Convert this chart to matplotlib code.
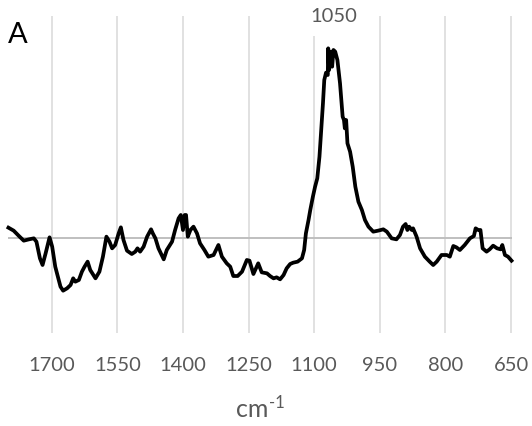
import matplotlib
matplotlib.use("Agg")
import matplotlib.pyplot as plt
from matplotlib.transforms import blended_transform_factory

# wavenumber (cm-1) and difference absorbance (arbitrary units)
wavenumber = [1799, 1787, 1775, 1764, 1752, 1741, 1735, 1727, 1721, 1714,
              1705, 1699, 1692, 1686, 1680, 1674, 1665, 1657, 1651, 1646,
              1638, 1631, 1625, 1618, 1612, 1600, 1591, 1583, 1575, 1568,
              1562, 1555, 1547, 1542, 1536, 1528, 1517, 1509, 1504, 1498,
              1490, 1482, 1473, 1469, 1463, 1456, 1444, 1437, 1425, 1418,
              1410, 1405, 1400, 1396, 1393, 1389, 1383, 1376, 1368, 1361,
              1351, 1342, 1330, 1319, 1311, 1300, 1292, 1285, 1275, 1265,
              1254, 1248, 1239, 1228, 1220, 1208, 1201, 1193, 1186, 1178,
              1170, 1163, 1155, 1148, 1138, 1128, 1123, 1119, 1113, 1109,
              1103, 1098, 1093, 1088, 1084, 1080, 1077, 1073, 1069, 1068,
              1066, 1062, 1059, 1056, 1052, 1047, 1041, 1035, 1032, 1030,
              1027, 1024, 1018, 1012, 1006, 999, 991, 984, 976, 965,
              954, 942, 934, 923, 912, 904, 897, 891, 887, 883,
              877, 874, 866, 858, 847, 836, 828, 820, 809, 797,
              790, 782, 775, 767, 756, 744, 735, 731, 725, 720,
              715, 706, 699, 691, 682, 674, 670, 664, 657, 649]
absorbance = [3.0, 2.1, 0.5, -0.9, -0.5, -0.2, -1.2, -6.2, -8.2, -4.7,
              0.1, -2.7, -8.7, -11.7, -14.7, -15.9, -15.2, -14.2, -12.2, -13.2,
              -12.7, -10.2, -8.7, -7.2, -9.7, -12.2, -10.2, -5.7, 0.3, -1.2,
              -3.2, -2.2, 1.3, 3.1, -0.7, -3.9, -4.9, -4.2, -3.2, -4.2,
              -2.7, 0.3, 2.5, 1.3, -0.2, -3.2, -6.5, -3.7, -1.2, 2.3,
              5.8, 6.8, 2.3, 6.8, 6.8, 0.3, 2.3, 3.3, 1.3, -1.7,
              -3.7, -5.7, -5.2, -2.2, -5.7, -7.7, -8.7, -11.5, -11.5, -10.2,
              -6.7, -6.9, -10.9, -7.7, -10.4, -10.7, -11.5, -12.2, -11.9, -12.5,
              -11.2, -9.2, -7.9, -7.5, -7.2, -6.2, -3.7, 1.3, 5.3, 8.3,
              12.3, 15.3, 17.8, 24.3, 32.3, 40.3, 47.3, 49.5, 48.8, 56.8,
              50.3, 55.8, 51.3, 56.3, 55.8, 53.3, 46.3, 36.3, 35.3, 32.8,
              35.3, 28.3, 25.8, 21.3, 15.3, 10.8, 8.3, 5.3, 3.3, 1.8,
              2.1, 2.5, 1.8, -0.2, -0.5, 0.8, 3.3, 4.1, 2.3, 3.3,
              2.3, 2.8, 0.3, -3.2, -5.7, -7.2, -8.2, -7.2, -5.2, -5.2,
              -5.7, -2.5, -2.9, -3.7, -2.2, -0.2, 0.5, 2.8, 2.3, 2.3,
              -3.2, -4.2, -3.5, -2.4, -3.2, -3.5, -2.2, -5.2, -5.7, -6.9]
tick_values = [1700, 1550, 1400, 1250, 1100, 950, 800, 650]
tick_labels = [str(t) for t in tick_values]
peak_label = "1050"
peak_x = 1056

FONT = ["Lato", "DejaVu Sans"]
plt.rcParams['font.family'] = FONT
GRAY = "#595959"

fig = plt.figure(figsize=(5.32, 4.26), dpi=100)
W, H = 532, 426
ax = fig.add_axes([8 / W, 1 - 333 / H, (511.5 - 8) / W, (333 - 16) / H])

ax.plot(wavenumber, absorbance, color="black", lw=2.7, solid_joinstyle="round",
        zorder=3, clip_on=False)
ax.axhline(0, color="#bfbfbf", lw=1.4, zorder=2)

ax.set_xlim(1800, 649)
ax.set_ylim(-28.6, 66.5)
ax.set_xticks(tick_values)
ax.set_xticklabels(tick_labels)
ax.set_yticks([])
ax.grid(axis="x", color="#d9d9d9", lw=1.1, zorder=1)
ax.set_axisbelow(True)
for s in ax.spines.values():
    s.set_visible(False)
ax.tick_params(axis="x", length=0, pad=17, labelsize=14.5, labelcolor=GRAY)

# peak label with white background box (hides gridline underneath)
trans = blended_transform_factory(ax.transData, fig.transFigure)
ax.text(peak_x, 1 - 16.7 / H, peak_label, transform=trans, ha="center", va="center",
        fontsize=14.5, color=GRAY, clip_on=False, zorder=4,
        bbox=dict(boxstyle="square,pad=0.55", fc="white", ec="none"))

# panel letter
fig.text(8 / W, 1 - 43.3 / H, "A", fontsize=21, color="black", ha="left", va="baseline")

# x axis label cm^-1
fig.text(268 / W, 1 - 417 / H, "cm", fontsize=18, color=GRAY, ha="right", va="baseline")
fig.text(269 / W, 1 - 408 / H, "-1", fontsize=12, color=GRAY, ha="left", va="baseline")

fig.savefig("out.png", dpi=100)
